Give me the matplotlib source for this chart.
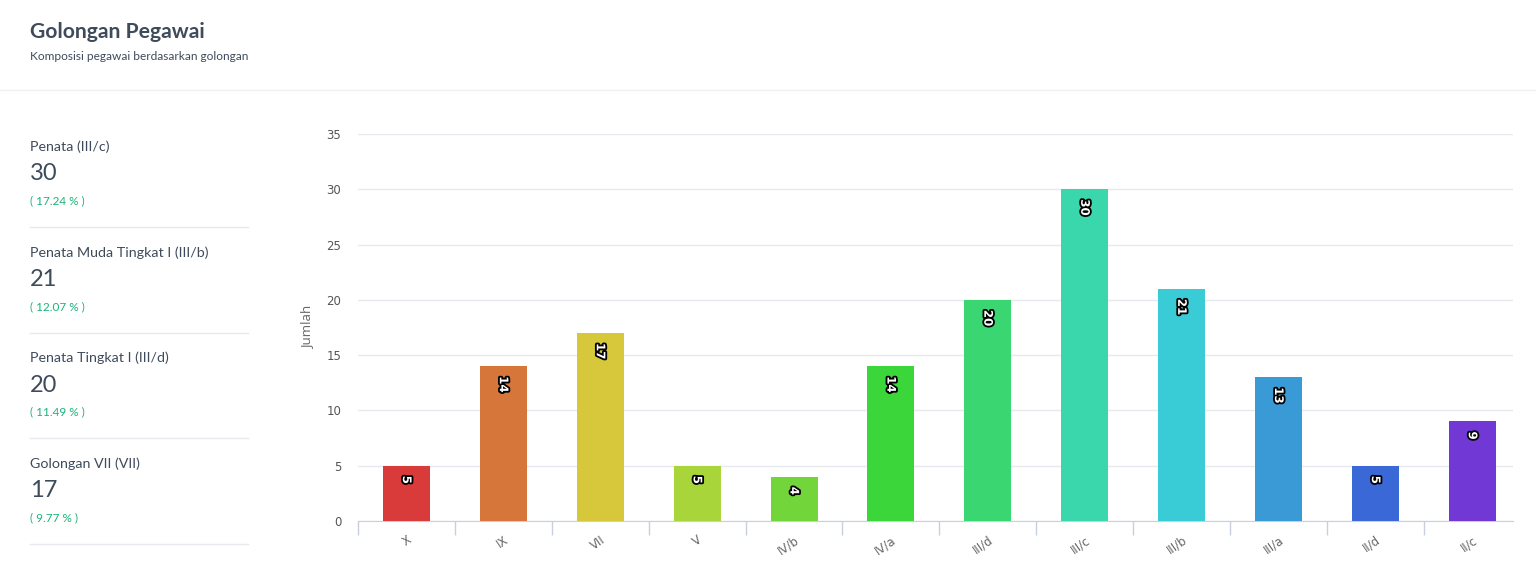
import matplotlib.pyplot as plt
import matplotlib.patheffects as pe
import numpy as np

plt.rcParams['font.family'] = ['Lato', 'DejaVu Sans']

# data
golongan = ['X', 'IX', 'VII', 'V', 'IV/b', 'IV/a', 'III/d', 'III/c', 'III/b', 'III/a', 'II/d', 'II/c']
jumlah = [5, 14, 17, 5, 4, 14, 20, 30, 21, 13, 5, 9]
warna = ['#d93a3a', '#d6763a', '#d6c83a', '#a8d63a', '#72d63a', '#3ad63a',
         '#3ad672', '#3ad6ac', '#3accd6', '#3a9ad6', '#3a68d6', '#7238d6']

top_names = ['Penata (III/c)', 'Penata Muda Tingkat I (III/b)', 'Penata Tingkat I (III/d)', 'Golongan VII (VII)']
top_values = [30, 21, 20, 17]
top_pct = ['( 17.24 % )', '( 12.07 % )', '( 11.49 % )', '( 9.77 % )']

W, H = 1536, 575
fig = plt.figure(figsize=(W / 100, H / 100), dpi=100)
fig.patch.set_facecolor('white')

# header
fig.text(30 / W, 1 - 32 / H, 'Golongan Pegawai', fontsize=15.2, fontweight='bold',
         color='#3e4b5b', va='center')
fig.text(30 / W, 1 - 57 / H, 'Komposisi pegawai berdasarkan golongan', fontsize=8.6,
         color='#3e4b5b', va='center')
fig.add_artist(plt.Line2D([0, 1], [1 - 90 / H] * 2, color='#eef0f3', lw=1))

# left summary panel
for i in range(len(top_names)):
    y0 = 147 + i * 105.5
    fig.text(30 / W, 1 - y0 / H, top_names[i], fontsize=10.3, color='#3e4b5b', va='center')
    fig.text(30 / W, 1 - (y0 + 27) / H, str(top_values[i]), fontsize=17, color='#3e4b5b', va='center')
    fig.text(30 / W, 1 - (y0 + 54) / H, top_pct[i], fontsize=8.5, color='#1bb37a', va='center')
    fig.add_artist(plt.Line2D([30 / W, 248 / W], [1 - (y0 + 80) / H] * 2, color='#e6e9ed', lw=1))

# chart
ax = fig.add_axes([358 / W, 1 - 521 / H, (1513 - 358) / W, (521 - 134) / H])
x = np.arange(len(golongan))
bars = ax.bar(x, jumlah, width=0.485, color=warna, zorder=3)
ax.set_xlim(-0.5, len(golongan) - 0.58)
ax.set_ylim(0, 35)
ax.set_yticks(range(0, 36, 5))
ax.yaxis.grid(True, color='#e6e9ed', lw=1, zorder=0)
for s in ['top', 'right', 'left']:
    ax.spines[s].set_visible(False)
ax.spines['bottom'].set_color('#c8d0dc')
ax.tick_params(axis='y', length=0, labelsize=8.5, labelcolor='#555555', pad=12)
for t in ax.get_yticklabels():
    t.set_family('DejaVu Sans')
ax.set_xticks(x)
ax.set_xticklabels(golongan, rotation=35, ha='right', rotation_mode='anchor',
                   fontsize=8.5, color='#666666', family='DejaVu Sans')
ax.tick_params(axis='x', which='major', length=0, pad=9)
ax.set_xticks(np.arange(-0.5, len(golongan) - 1, 1), minor=True)
ax.tick_params(axis='x', which='minor', length=10, color='#c8d0dc', width=1)
ax.set_ylabel('Jumlah', fontsize=9.5, color='#666666', family='Open Sans')
ax.yaxis.set_label_coords(-0.038, 0.5)

for b, v in zip(bars, jumlah):
    ax.annotate(str(v), (b.get_x() + b.get_width() / 2, v), xytext=(0, -10),
                textcoords='offset pixels', rotation=-90, rotation_mode='anchor',
                ha='left', va='center',
                fontsize=8.5, fontweight='bold', color='white', zorder=4, family='DejaVu Sans',
                path_effects=[pe.withStroke(linewidth=2.6, foreground='black')])

fig.savefig('out.png', dpi=100)
